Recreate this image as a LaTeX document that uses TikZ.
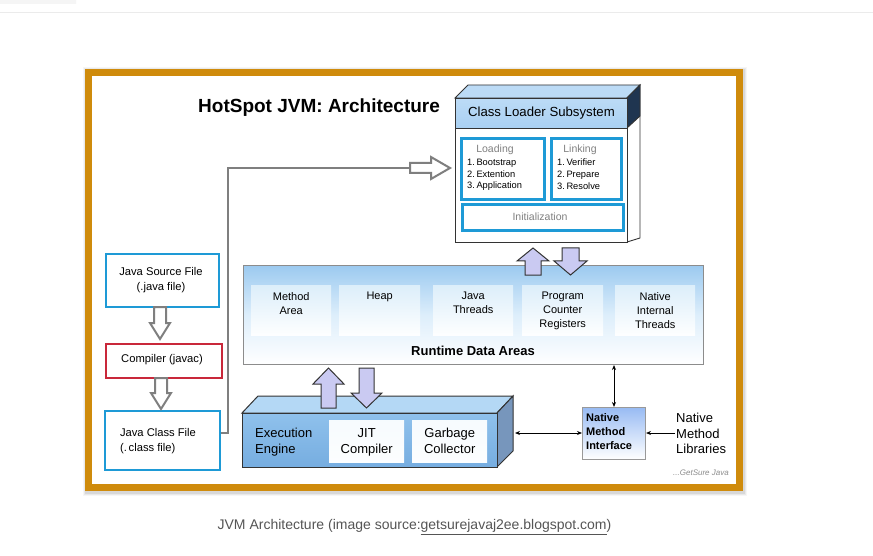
\documentclass[tikz,border=0pt]{standalone}
\usepackage{fontspec}
\setmainfont{Liberation Sans}
\usetikzlibrary{arrows.meta}
\definecolor{gold}{HTML}{CF8B0C}
\definecolor{cyanb}{HTML}{1E9AD6}
\definecolor{redb}{HTML}{C9283A}
\definecolor{lav}{HTML}{CACAF2}
\definecolor{hdrblue}{HTML}{A9D0F2}
\definecolor{hdrtop}{HTML}{BCDBF6}
\definecolor{rdablue}{HTML}{9CCAF0}
\definecolor{rdamid}{HTML}{DDEEFB}
\definecolor{inbox}{HTML}{DCEEFA}
\definecolor{engfront}{HTML}{8FC1EC}
\definecolor{engfrontb}{HTML}{76ADE0}
\definecolor{engtop}{HTML}{B4D8F5}
\definecolor{engside}{HTML}{7796BC}
\definecolor{darkside}{HTML}{1F3550}
\definecolor{edge}{HTML}{333333}
\definecolor{hollow}{HTML}{7F7F7F}
\definecolor{captxt}{HTML}{555555}
\tikzset{
  frontface/.style={draw=edge, line width=0.9, fill=white, anchor=north west, inner sep=0},
  cbox/.style={draw=cyanb, line width=3, fill=white, anchor=north west, inner sep=0},
  filebox/.style={draw=cyanb, line width=2, fill=white, anchor=north west, inner sep=0},
  redbox/.style={draw=redb, line width=2, fill=white, anchor=north west, inner sep=0},
  rbox/.style={top color=inbox, bottom color=white!96!inbox, anchor=north west, inner sep=0, draw=none},
  lavarrow/.style={fill=lav, draw=edge, line width=1, line join=miter},
  hollowarrow/.style={fill=white, draw=hollow, line width=2, line join=miter},
  connector/.style={draw=hollow, line width=2},
  thinarrow/.style={draw=black, line width=0.9, {Stealth[length=5,width=4]}-{Stealth[length=5,width=4]}},
  smalltxt/.style={font=\fontsize{9.3}{11.6}\selectfont, inner sep=0, align=left},
  subhead/.style={inner sep=0, text=black!50, font=\fontsize{10.5}{12}\selectfont},
  rtext/.style={font=\fontsize{11}{14}\selectfont, inner sep=0, align=center, anchor=north},
  etext/.style={font=\fontsize{13}{16}\selectfont, inner sep=0, align=center, anchor=north},
  filetxt/.style={font=\fontsize{11.2}{15}\selectfont, inner sep=0, align=center}
}
\begin{document}
\begin{tikzpicture}[x=1pt,y=-1pt]
\useasboundingbox (0,0) rectangle (873,556);
\fill[white] (0,0) rectangle (873,556);
\draw[black!8, line width=1] (0,13) -- (873,13);
\fill[black!4] (0,0) -- (72,0) arc[start angle=90, end angle=0, radius=4] -- (76,4) -- (0,4) -- cycle;
% frame shadow
\foreach \w/\o in {13/0.035, 11/0.05, 9/0.07}
  \draw[black, opacity=\o, line width=\w] (89.5,74) rectangle (740.5,489);
\fill[white] (92,76) rectangle (736,484);
\draw[gold, line width=7] (88.5,72.5) rectangle (739.5,487.5);

% title
\node[anchor=west, inner sep=0, font=\bfseries\fontsize{19}{22}\selectfont] (title) at (198,108) {HotSpot JVM: Architecture};

% ---------- Class Loader Subsystem (3D box) ----------
\filldraw[fill=hdrtop, draw=edge, line width=0.9] (455,98) -- (468,85) -- (640,85) -- (627,98) -- cycle;
\filldraw[fill=white, draw=edge, line width=0.9] (627,98) -- (640,85) -- (640,238) -- (627,242) -- cycle;
\filldraw[fill=darkside, draw=edge, line width=0.9] (627,98) -- (640,85) -- (640,116) -- (627,128) -- cycle;
\node[frontface, minimum width=172, minimum height=144] (cls) at (455,98) {};
\node[frontface, top color=hdrtop, bottom color=hdrblue, minimum width=172, minimum height=30,
      font=\fontsize{13.2}{15}\selectfont] (clsh) at (455,98) {Class Loader Subsystem};
\node[cbox, minimum width=83, minimum height=61] (load) at (460,137) {};
\node[cbox, minimum width=70, minimum height=61] (link) at (550,137) {};
\node[cbox, minimum width=161, minimum height=26] (init) at (461,203) {};
\node[subhead] (loadt) at (495,150) {Loading};
\node[smalltxt, anchor=north west] (loadi) at (467,159) {1.\,Bootstrap\\2.\,Extention\\3.\,Application};
\node[subhead] (linkt) at (580,150) {Linking};
\node[smalltxt, anchor=north west] (linki) at (557,159) {1.\,Verifier\\2.\,Prepare\\3.\,Resolve};
\node[subhead] (initt) at (540,216.5) {Initialization};

% ---------- Left column ----------
\node[filebox, minimum width=113, minimum height=53] (src) at (105,253) {};
\node[filetxt] (srct) at (161,280) {Java Source File\\(.java file)};
\node[redbox, minimum width=116, minimum height=34] (javac) at (105,343) {};
\node[filetxt] (javact) at (162,360) {Compiler (javac)};
\node[filebox, minimum width=115, minimum height=59] (cf) at (104,410) {};
\node[filetxt, align=left] (cft) at (158,441) {Java Class File\\(.\,class file)};

% hollow arrows between left boxes
\draw[hollowarrow] (154,307) -- (166,307) -- (166,323) -- (170,323) -- (160,339) -- (150,323) -- (154,323) -- cycle;
\draw[hollowarrow] (155,378) -- (167,378) -- (167,393) -- (171,393) -- (161,409) -- (151,393) -- (155,393) -- cycle;

% connector from class file to class loader
\coordinate (hin) at (410,168);
\draw[connector] (cf.east |- 0,433) -- (228,433) |- (hin);
\draw[hollowarrow] (hin) ++(0,-5) -- (431,163) -- (431,157) -- (450,168) -- (431,179) -- (431,173) -- (410,173) -- cycle;

% ---------- Runtime Data Areas ----------
\node[anchor=north west, inner sep=0, draw=black!45, line width=1, minimum width=460, minimum height=99,
      top color=rdablue, bottom color=white, middle color=rdamid] (rda) at (243,265) {};
\node[rbox, minimum width=80, minimum height=50] (ma) at (251,285) {};
\node[rbox, minimum width=81, minimum height=50] (heap) at (339,285) {};
\node[rbox, minimum width=80, minimum height=50] (jt) at (433,285) {};
\node[rbox, minimum width=81, minimum height=50] (pc) at (522,285) {};
\node[rbox, minimum width=80, minimum height=50] (nit) at (615,285) {};
\node[rtext] (mat) at (ma.north |- 0,292) {Method\\Area};
\node[rtext] (heapt) at (heap.north |- 0,292) {Heap};
\node[rtext] (jtt) at (jt.north |- 0,292) {Java\\Threads};
\node[rtext] (pct) at (pc.north |- 0,292) {Program\\Counter\\Registers};
\node[rtext] (nitt) at (nit.north |- 0,292) {Native\\Internal\\Threads};
\node[inner sep=0, font=\bfseries\fontsize{13}{15}\selectfont] (rdat) at (473,351) {Runtime Data Areas};

% arrows class loader <-> runtime
\draw[lavarrow] (533,248) -- (549,261) -- (541,261) -- (541,275) -- (525,275) -- (525,261) -- (517,261) -- cycle;
\draw[lavarrow] (562,248) -- (579,248) -- (579,261) -- (587,261) -- (570.5,275) -- (554,261) -- (562,261) -- cycle;

% ---------- Execution Engine (3D box) ----------
\filldraw[fill=engtop, draw=edge, line width=1] (242,413) -- (258,396) -- (513,396) -- (497,413) -- cycle;
\filldraw[fill=engside, draw=edge, line width=1] (497,413) -- (513,396) -- (513,451) -- (497,467) -- cycle;
\node[anchor=north west, inner sep=0, draw=edge, line width=1, top color=engfront, bottom color=engfrontb,
      minimum width=255, minimum height=54] (eng) at (242,413) {};
\node[rbox, top color=white!75!inbox, bottom color=white!92!inbox, minimum width=75, minimum height=42] (jit) at (329,420) {};
\node[rbox, top color=white!75!inbox, bottom color=white!92!inbox, minimum width=75, minimum height=42] (gc) at (412,420) {};
\node[etext, anchor=north west, align=left] (engt) at (255,428) {Execution\\Engine};
\node[etext] (jitt) at (jit.north |- 0,428) {JIT\\Compiler};
\node[etext] (gct) at (gc.north |- 0,428) {Garbage\\Collector};

% arrows execution engine <-> runtime
\draw[lavarrow] (328.5,368) -- (344,384) -- (336,384) -- (336,408) -- (321,408) -- (321,384) -- (313,384) -- cycle;
\draw[lavarrow] (359,368) -- (374,368) -- (374,393) -- (382,393) -- (366.5,408) -- (351,393) -- (359,393) -- cycle;

% ---------- Native Method Interface ----------
\node[anchor=north west, inner sep=0, draw=black!40, line width=1, top color=hdrblue!90!blue, bottom color=white,
      minimum width=63, minimum height=52] (nmi) at (582,407) {};
\node[anchor=north west, inner sep=0, align=left, font=\bfseries\fontsize{11}{14}\selectfont] (nmit) at (586,413) {Native\\Method\\Interface};
\node[anchor=north west, inner sep=1, align=left, font=\fontsize{13}{15.5}\selectfont] (nml) at (675,412) {Native\\Method\\Libraries};
\coordinate (engr) at (515,433);
\draw[thinarrow] (engr) -- (nmi.west |- engr);
\draw[thinarrow] (nmi.north) -- (nmi.north |- rda.south);
\draw[draw=black, line width=0.9, -{Stealth[length=5,width=4]}] (nml.west |- engr) -- (nmi.east |- engr);

\node[anchor=east, inner sep=0, text=black!45, font=\itshape\fontsize{8}{9}\selectfont] (sig) at (729,473) {...GetSure Java};

% caption
\node[inner sep=0, text=captxt, font=\fontsize{14}{16}\selectfont] (cap) at (414.5,527) {JVM Architecture (image source:\underline{getsurejavaj2ee.blogspot.com})};
\end{tikzpicture}
\end{document}
